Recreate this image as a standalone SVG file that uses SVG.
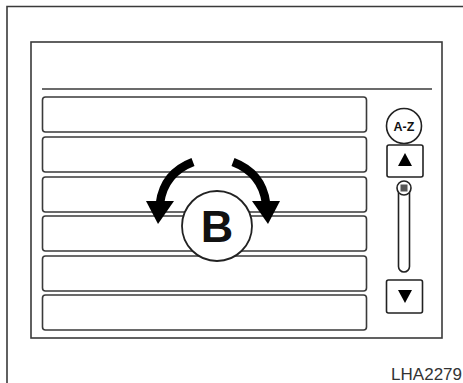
<svg xmlns="http://www.w3.org/2000/svg" width="463" height="383" viewBox="0 0 463 383">
<style>
.ln{fill:none;stroke:#3a3a3a;stroke-width:1.6}
.row{fill:#fff;stroke:#3a3a3a;stroke-width:1.6}
.btn{fill:#fff;stroke:#222;stroke-width:1.6}
.arc{fill:none;stroke:#000;stroke-width:8.5}
.lbl{font-family:"Liberation Sans",Arial,sans-serif;fill:#111}
.code{font-family:"Liberation Sans",Arial,sans-serif;fill:#333}
</style>
<rect width="463" height="383" fill="#fff"/>
<g id="frame">
<path class="ln" d="M7 384 V6.5 H464"/>
<rect class="ln" x="31" y="42" width="411" height="296"/>
<line class="ln" x1="42" y1="89" x2="432" y2="89"/>
</g>
<g id="list">
<rect class="row" x="42.5" y="97" width="324" height="35" rx="3"/>
<rect class="row" x="42.5" y="137" width="324" height="35" rx="3"/>
<rect class="row" x="42.5" y="177" width="324" height="35" rx="3"/>
<rect class="row" x="42.5" y="216" width="324" height="35" rx="3"/>
<rect class="row" x="42.5" y="256" width="324" height="35" rx="3"/>
<rect class="row" x="42.5" y="295" width="324" height="35" rx="3"/>
</g>
<g id="az">
<circle class="btn" cx="404" cy="126" r="17.5"/>
<text class="lbl" x="404" y="130.5" text-anchor="middle" font-size="12.5" font-weight="bold">A-Z</text>
</g>
<g id="up">
<rect class="btn" x="387" y="145" width="36" height="32" rx="2"/>
<polygon points="405,153 398,166 412,166" fill="#000"/>
</g>
<g id="slider">
<rect class="btn" x="398.5" y="184" width="11" height="88" rx="5.5"/>
<circle class="btn" cx="404" cy="188" r="7"/>
<rect x="400.5" y="184.5" width="7" height="7" fill="#555"/>
</g>
<g id="down">
<rect class="btn" x="386.5" y="280" width="36" height="33" rx="2"/>
<polygon points="398,290 412,290 405,303" fill="#000"/>
</g>
<g id="arrows">
<path class="arc" d="M193 162 Q164 173 160 203"/>
<polygon points="146,201 174,201 158,224" fill="#000"/>
<path class="arc" d="M233 162 Q262 173 266 203"/>
<polygon points="252,201 280,201 268,224" fill="#000"/>
</g>
<g id="b">
<circle cx="217" cy="226" r="35" fill="#fff" stroke="#222" stroke-width="1.8"/>
<text class="lbl" x="217" y="242" text-anchor="middle" font-size="45" font-weight="bold" fill="#000">B</text>
</g>
<text class="code" x="462" y="380" text-anchor="end" font-size="17">LHA2279</text>
</svg>
